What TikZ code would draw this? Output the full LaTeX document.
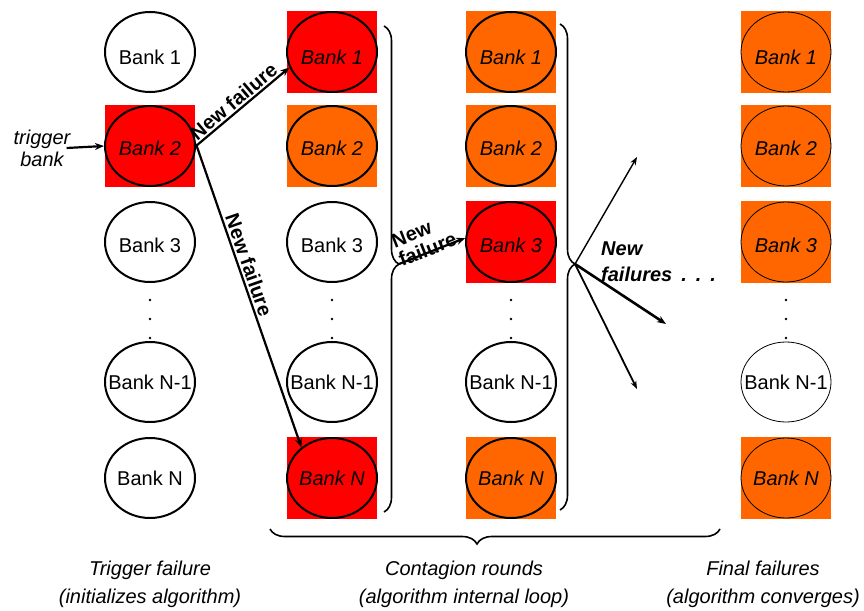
\documentclass[tikz,border=0pt]{standalone}
\usepackage{fontspec}
\setmainfont{Liberation Sans}
\usetikzlibrary{shapes.geometric,arrows.meta,decorations.pathreplacing}
\definecolor{failred}{RGB}{255,0,0}
\definecolor{failorange}{RGB}{255,102,0}
\newcommand\bankfont{\fontsize{20}{24}\selectfont}
% text that does not widen its ellipse; optional argument lowers it
\newcommand\bt[2][14.3pt]{\makebox[0pt]{\raisebox{0pt}[#1][0pt]{#2}}}
\begin{document}
\begin{tikzpicture}[x=1pt,y=-1pt,
  font=\bankfont,
  bank/.style={ellipse, draw=black, line width=2pt, fill=white, minimum width=90pt, minimum height=80pt, inner sep=0pt},
  finalbank/.style={bank, line width=0.8pt},
  failbank/.style={font=\bankfont\itshape},
  redbank/.style={failbank, fill=failred},
  orbank/.style={failbank, fill=failorange},
  cell/.style={rectangle, minimum width=90pt, minimum height=82pt, inner sep=0pt, draw=none},
  redcell/.style={cell, fill=failred},
  orcell/.style={cell, fill=failorange},
  conn/.style={line width=2.2pt, -{Stealth[length=9pt,width=7pt]}},
  thinconn/.style={line width=1.4pt, -{Stealth[length=8pt,width=6pt]}},
  bracestyle/.style={line width=1.6pt, decorate},
  lbl/.style={font=\bankfont\bfseries},
  caption/.style={font=\bankfont\itshape, align=center, inner sep=0pt},
  vdot/.style={circle, fill=black, inner sep=0pt, minimum size=2.8pt}
]
\useasboundingbox (0,0) rectangle (864,610);

% ---------- background squares of failed banks ----------
\node[redcell] (s12) at (150,146) {};
\node[redcell] (s21) at (332,52) {};
\node[orcell]  (s22) at (332,146) {};
\node[redcell] (s2N) at (332,478) {};
\node[orcell]  (s31) at (511,52) {};
\node[orcell]  (s32) at (511,146) {};
\node[redcell] (s33) at (511,242) {};
\node[orcell]  (s3N) at (511,478) {};
\node[orcell]  (s41) at (786,52) {};
\node[orcell]  (s42) at (786,146) {};
\node[orcell]  (s43) at (786,242) {};
\node[orcell]  (s4N) at (786,478) {};

% ---------- column 1 ----------
\node[bank] (c1b1) at (150,52) {\bt[26pt]{Bank 1}};
\node[bank,redbank] (c1b2) at (150,146) {\bt[18pt]{Bank 2}};
\node[bank] (c1b3) at (150,242) {\bt[20pt]{Bank 3}};
\node[bank] (c1bM) at (150,382) {\bt{Bank N-1}};
\node[bank] (c1bN) at (150,478) {\bt{Bank N}};
% ---------- column 2 ----------
\node[bank,redbank] (c2b1) at (332,52) {\bt[26pt]{Bank 1}};
\node[bank,orbank] (c2b2) at (332,146) {\bt[18pt]{Bank 2}};
\node[bank] (c2b3) at (332,242) {\bt[20pt]{Bank 3}};
\node[bank] (c2bM) at (332,382) {\bt{Bank N-1}};
\node[bank,redbank] (c2bN) at (332,478) {\bt{Bank N}};
% ---------- column 3 ----------
\node[bank,orbank] (c3b1) at (511,52) {\bt[26pt]{Bank 1}};
\node[bank,orbank] (c3b2) at (511,146) {\bt[18pt]{Bank 2}};
\node[bank,redbank] (c3b3) at (511,242) {\bt[20pt]{Bank 3}};
\node[bank] (c3bM) at (511,382) {\bt{Bank N-1}};
\node[bank,orbank] (c3bN) at (511,478) {\bt{Bank N}};
% ---------- column 4 ----------
\node[finalbank,orbank] (c4b1) at (786,52) {\bt[26pt]{Bank 1}};
\node[finalbank,orbank] (c4b2) at (786,146) {\bt[18pt]{Bank 2}};
\node[finalbank,orbank] (c4b3) at (786,242) {\bt[20pt]{Bank 3}};
\node[finalbank] (c4bM) at (786,382) {\bt{Bank N-1}};
\node[finalbank,orbank] (c4bN) at (786,478) {\bt{Bank N}};

% ---------- vertical dots ----------
\foreach \x/\c in {150/1,332/2,511/3,786/4}{
  \foreach \y/\k in {300/a,319/b,338/c}{
    \node[vdot] (d\c\k) at (\x,\y) {};
  }
}

% ---------- trigger ----------
\node[font=\bankfont\itshape, align=center, inner sep=0pt] (trig) at (42,148) {trigger\\[-2pt]bank};
\draw[conn] ([xshift=-4pt]trig.east) -- (c1b2.west);

% ---------- first round ----------
\draw[conn] (c1b2.east) -- node[lbl, sloped, above, pos=0.47, inner sep=1.5pt] {New failure} (c2b1.200);
\draw[conn] ([yshift=2pt]c1b2.east) -- node[lbl, sloped, above, pos=0.41, inner sep=2pt] {New failure} (c2bN.135);

% ---------- braces ----------
\draw[bracestyle, decoration={brace, amplitude=15pt, aspect=0.49}] (384,26) -- (384,512);
\coordinate (b1tip) at (399,264);
\draw[bracestyle, decoration={brace, amplitude=15pt, aspect=0.494}] (560,24) -- (560,510);
\coordinate (b2tip) at (575,264);
\draw[bracestyle, decoration={brace, amplitude=15pt, aspect=0.54}] (720,529) -- (270,529);

% ---------- second round ----------
\draw[conn] (b1tip) -- node[lbl, sloped, above=-5pt, align=left, inner sep=0pt, pos=0.45] {New\\[-4pt]failure} (c3b3.175);

% ---------- further rounds ----------
\coordinate (n1) at (637,157);
\coordinate (n2) at (666,324);
\coordinate (n3) at (637,389);
\draw[thinconn] (b2tip) -- (n1);
\draw[conn, line width=2.6pt] (b2tip) -- (n2);
\draw[thinconn, line width=1.8pt] (b2tip) -- (n3);
\node[font=\bankfont\bfseries\itshape, align=left, anchor=west, inner sep=0pt] (nf) at (601,262) {New\\[2pt]failures\hspace{9pt}.\hspace{9pt}.\hspace{9pt}.};

% ---------- captions ----------
\node[caption] (cap1) at (150,584) {Trigger failure\\[4pt](initializes algorithm)};
\node[caption] (cap2) at (464,584) {Contagion rounds\\[4pt](algorithm internal loop)};
\node[caption] (cap3) at (763,584) {Final failures\\[4pt](algorithm converges)};
\end{tikzpicture}
\end{document}
